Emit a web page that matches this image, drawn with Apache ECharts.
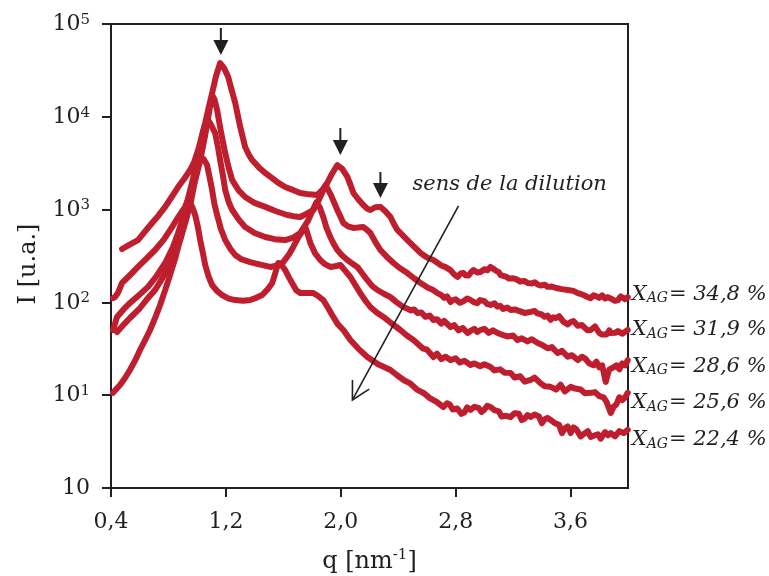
<!DOCTYPE html>
<html><head><meta charset="utf-8">
<script src="https://cdn.jsdelivr.net/npm/echarts@6/dist/echarts.min.js"></script>
<style>html,body{margin:0;padding:0;background:#fff}#c{width:769px;height:576px}</style>
</head><body><div id="c"></div>
<script>
// ---------- data (q in nm^-1, I in u.a.) ----------
const xTicks = [0.4, 1.2, 2.0, 2.8, 3.6];
const yTicks = [1, 10, 100, 1000, 10000, 100000];
const xagLabels = ['34,8', '31,9', '28,6', '25,6', '22,4'];

const s348 = [[0.477,376],[0.53,420],[0.588,470],[0.64,590],[0.686,717],[0.73,860],[0.777,1070],[0.82,1350],[0.867,1750],[0.91,2150],[0.951,2670],[0.98,3300],[1.007,4390],[1.03,6000],[1.056,8570],[1.08,12500],[1.104,18000],[1.13,27000],[1.16,38000],[1.19,33000],[1.216,26800],[1.24,19500],[1.265,14100],[1.285,10000],[1.3,7760],[1.32,5800],[1.334,4730],[1.36,3900],[1.383,3420],[1.43,2850],[1.474,2480],[1.52,2200],[1.565,1940],[1.613,1750],[1.67,1620],[1.718,1510],[1.78,1460],[1.837,1440],[1.87,1620],[1.906,1940],[1.94,2450],[1.976,3020],[2.01,2750],[2.046,2250],[2.07,1800],[2.088,1510],[2.12,1300],[2.157,1120],[2.185,1020],[2.206,990],[2.24,1060],[2.276,1070],[2.31,960],[2.346,832],[2.37,700],[2.394,603],[2.43,530],[2.464,470],[2.51,400],[2.555,341],[2.6,305],[2.645,286],[2.7,250],[2.73,240],[2.764,223],[2.79,200],[2.813,188],[2.835,205],[2.855,207],[2.87,196],[2.89,195],[2.91,214],[2.924,223],[2.95,210],[2.973,213],[3.0,228],[3.02,222],[3.043,241],[3.06,232],[3.08,220],[3.1,212],[3.113,197],[3.15,190],[3.17,181],[3.182,174],[3.2,182],[3.22,178],[3.25,168],[3.28,170],[3.301,162],[3.33,160],[3.35,165],[3.37,156],[3.39,152],[3.42,155],[3.44,147],[3.47,148],[3.5,143],[3.54,139],[3.58,136],[3.62,133],[3.65,126],[3.68,122],[3.7,118],[3.72,114],[3.74,111],[3.76,119],[3.78,116],[3.8,112],[3.82,119],[3.84,110],[3.859,114],[3.89,108],[3.91,104],[3.93,106],[3.95,116],[3.96,112],[3.98,108],[3.998,114]];

const s319 = [[0.414,111],[0.428,114],[0.45,128],[0.477,162],[0.53,195],[0.588,241],[0.65,300],[0.707,367],[0.77,480],[0.825,649],[0.87,840],[0.916,1070],[0.95,1450],[0.986,2080],[1.02,3300],[1.056,6370],[1.08,10500],[1.104,17200],[1.12,15500],[1.139,11800],[1.165,7000],[1.195,4070],[1.22,2800],[1.244,2080],[1.29,1600],[1.334,1370],[1.4,1180],[1.474,1070],[1.55,960],[1.627,875],[1.67,850],[1.718,832],[1.76,900],[1.809,990],[1.85,1300],[1.895,1840],[1.93,1450],[1.976,990],[2.018,717],[2.05,660],[2.088,634],[2.12,640],[2.157,649],[2.185,600],[2.206,560],[2.24,450],[2.276,367],[2.32,310],[2.367,266],[2.41,235],[2.464,207],[2.51,182],[2.555,162],[2.61,143],[2.64,137],[2.673,126],[2.7,120],[2.72,112],[2.74,116],[2.764,101],[2.78,106],[2.8,108],[2.83,99],[2.85,102],[2.88,110],[2.903,106],[2.93,100],[2.95,98],[2.97,106],[3.0,103],[3.02,96],[3.043,94],[3.07,98],[3.09,90],[3.11,92],[3.13,85],[3.16,88],[3.182,83],[3.21,84],[3.25,80],[3.28,77],[3.322,79],[3.35,81],[3.37,76],[3.4,74],[3.42,70],[3.44,72],[3.461,65],[3.48,69],[3.5,68],[3.52,71],[3.55,62],[3.58,58],[3.601,61.5],[3.62,63],[3.65,56],[3.68,57],[3.7,53],[3.72,50],[3.74,50.4],[3.77,55],[3.8,47],[3.82,45],[3.85,45],[3.87,50],[3.88,46.8],[3.91,47],[3.93,49],[3.96,46],[3.998,50.4]];

const s286 = [[0.414,50.4],[0.442,69.7],[0.49,85],[0.532,98.6],[0.6,122],[0.658,147],[0.72,195],[0.777,266],[0.83,390],[0.867,560],[0.9,800],[0.916,990],[0.95,1600],[0.986,2670],[1.01,4000],[1.035,6370],[1.055,8300],[1.076,9240],[1.1,8000],[1.125,6690],[1.145,4700],[1.16,3420],[1.18,2300],[1.195,1630],[1.22,1200],[1.244,990],[1.29,780],[1.334,649],[1.4,560],[1.474,507],[1.54,480],[1.613,470],[1.67,500],[1.718,560],[1.77,750],[1.8,950],[1.83,1200],[1.855,1050],[1.878,832],[1.9,640],[1.927,507],[1.95,430],[1.976,367],[2.01,320],[2.046,286],[2.08,262],[2.115,241],[2.15,205],[2.185,174],[2.22,150],[2.255,136],[2.3,124],[2.346,114],[2.39,100],[2.436,89.2],[2.46,86],[2.49,82],[2.51,84],[2.534,76.9],[2.56,78],[2.59,70],[2.62,72],[2.645,64.6],[2.67,66],[2.7,59],[2.72,63],[2.764,54.3],[2.79,57],[2.82,50],[2.85,53],[2.883,46.8],[2.91,50],[2.93,52],[2.95,48],[2.973,50.4],[3.0,52],[3.03,47],[3.06,50],[3.092,46.8],[3.12,45],[3.16,43],[3.2,44],[3.231,39.3],[3.26,41],[3.3,38],[3.33,40],[3.371,36.5],[3.4,35],[3.44,32],[3.47,33],[3.51,28.5],[3.54,30],[3.58,26],[3.61,27],[3.65,23.9],[3.68,26],[3.7,25],[3.73,22],[3.76,21],[3.78,23],[3.8,20],[3.82,21],[3.845,13.9],[3.86,17],[3.87,19],[3.9,20],[3.92,21],[3.94,19],[3.96,22],[3.98,21],[3.998,23.9]];

const s256 = [[0.442,48],[0.49,58],[0.532,67.9],[0.602,87],[0.65,108],[0.707,136],[0.76,185],[0.811,253],[0.85,350],[0.881,470],[0.92,750],[0.951,1120],[0.97,1550],[0.986,2080],[1.005,2900],[1.021,3690],[1.045,3500],[1.069,3020],[1.085,2300],[1.104,1630],[1.12,1150],[1.139,875],[1.165,620],[1.195,470],[1.23,380],[1.265,324],[1.31,290],[1.369,272],[1.44,255],[1.509,241],[1.56,250],[1.599,272],[1.64,330],[1.669,396],[1.71,520],[1.753,649],[1.77,540],[1.788,437],[1.82,340],[1.857,286],[1.89,258],[1.927,241],[1.96,245],[1.997,253],[2.03,220],[2.067,188],[2.1,155],[2.136,126],[2.17,105],[2.206,89.2],[2.25,78],[2.297,69.7],[2.35,60],[2.415,50.4],[2.46,44],[2.506,39.3],[2.57,32],[2.6,31],[2.645,25.8],[2.67,28],[2.7,24.5],[2.73,26],[2.764,23.9],[2.8,25],[2.83,22.5],[2.86,23.5],[2.903,21.2],[2.93,22],[2.97,20.5],[3.0,21.5],[3.043,20.1],[3.07,18.5],[3.11,19],[3.14,17.5],[3.182,17.4],[3.21,15.5],[3.25,16],[3.28,14],[3.322,14.6],[3.35,15.5],[3.39,13.5],[3.42,12.5],[3.461,12.3],[3.5,11.5],[3.53,13],[3.56,11],[3.601,12.3],[3.63,11.8],[3.67,11.5],[3.7,10.5],[3.74,10.6],[3.77,10.8],[3.8,9.8],[3.83,9.5],[3.85,8.5],[3.88,6.43],[3.9,7.5],[3.92,8],[3.94,9.5],[3.96,8.87],[3.98,9.5],[3.998,10.6]];

const s224 = [[0.414,10.6],[0.44,11.8],[0.463,12.9],[0.5,15.5],[0.532,18.7],[0.57,24],[0.602,30.7],[0.64,40],[0.672,50.4],[0.71,70],[0.742,93.8],[0.78,140],[0.811,197],[0.85,310],[0.881,470],[0.92,800],[0.951,1180],[0.968,1050],[0.986,875],[1.005,650],[1.021,470],[1.04,340],[1.056,253],[1.08,190],[1.104,154],[1.14,132],[1.174,120],[1.22,110],[1.265,106],[1.32,104],[1.369,106],[1.41,112],[1.453,120],[1.49,138],[1.523,162],[1.545,210],[1.565,266],[1.59,250],[1.613,223],[1.64,185],[1.669,154],[1.69,135],[1.718,126],[1.76,126],[1.809,126],[1.84,118],[1.878,106],[1.91,88],[1.948,69.7],[1.98,58],[2.018,50.4],[2.067,39.3],[2.12,32],[2.185,25.8],[2.26,21.5],[2.346,18.7],[2.39,16.5],[2.44,14.5],[2.48,13.5],[2.534,11.4],[2.58,10.5],[2.62,9.3],[2.67,8.4],[2.715,7.46],[2.74,8.2],[2.76,7.9],[2.78,7.0],[2.81,7.2],[2.84,6.3],[2.86,6.5],[2.88,7.4],[2.903,6.93],[2.93,7.5],[2.96,7.3],[2.98,6.6],[3.0,7.0],[3.02,7.7],[3.043,7.46],[3.07,6.9],[3.1,6.7],[3.12,5.9],[3.15,6.0],[3.182,5.82],[3.21,6.4],[3.24,6.3],[3.26,5.4],[3.28,5.6],[3.3,6.1],[3.322,5.82],[3.35,6.2],[3.38,5.9],[3.4,5.0],[3.42,5.5],[3.44,5.7],[3.461,5.41],[3.49,5.0],[3.52,4.8],[3.54,3.9],[3.56,4.4],[3.58,4.6],[3.601,3.91],[3.62,4.5],[3.64,4.3],[3.67,3.6],[3.69,3.8],[3.72,4.1],[3.74,3.55],[3.77,3.7],[3.79,3.8],[3.81,3.4],[3.84,4.0],[3.86,3.7],[3.88,3.91],[3.91,3.6],[3.94,4.1],[3.97,3.9],[3.998,4.22]];

// annotation anchors in data coordinates: [q, I at top of shaft, I at tip]
const peakArrows = [[1.165, 90600, 46300], [1.997, 7570, 3880], [2.276, 2540, 1334]];
const dilutionFrom = [2.82, 1094];
const dilutionTo = [2.081, 8.88];
const dilutionText = 'sens de la dilution';
const dilutionTextAt = [2.499, 1842];

// ---------- styling ----------
const FONT = '"DejaVu Serif", serif';
const INK = '#231f20';
const RED = '#be1e2d';
const labelDy = [-3, 0, 6, 10, 10];
const supDigits = {1:'1',10:'1',100:'2',1000:'3',10000:'4',100000:'5'};

const endRich = {
  x: {fontFamily: FONT, fontStyle: 'italic', fontSize: 21, color: INK, lineHeight: 21, verticalAlign: 'top'},
  s: {fontFamily: FONT, fontStyle: 'italic', fontSize: 14, color: INK, lineHeight: 14, padding: [9, 1, 0, 0]},
  t: {fontFamily: FONT, fontStyle: 'italic', fontSize: 21, color: INK, lineHeight: 21, verticalAlign: 'top'}
};

const chart = echarts.init(document.getElementById('c'), null, {renderer: 'canvas'});
const curves = [s348, s319, s286, s256, s224];

chart.setOption({
  animation: false,
  backgroundColor: '#fff',
  grid: {left: 111, right: 141, top: 24, bottom: 88, show: true, borderColor: INK, borderWidth: 2, outerBoundsMode: 'none', containLabel: false},
  xAxis: {
    type: 'value', min: 0.4, max: 4.0,
    name: '{a|q [nm}{s|-1}{a|]}', nameLocation: 'middle', nameGap: 60,
    nameTextStyle: {rich: {
      a: {fontFamily: FONT, fontSize: 24, color: INK, lineHeight: 26, verticalAlign: 'bottom'},
      s: {fontFamily: FONT, fontSize: 15, color: INK, lineHeight: 15, verticalAlign: 'top'}
    }},
    axisLine: {show: true, onZero: false, lineStyle: {color: INK, width: 2}},
    axisTick: {show: true, inside: false, length: 9, lineStyle: {color: INK, width: 2}, customValues: xTicks},
    axisLabel: {show: true, margin: 23, fontFamily: FONT, fontSize: 22, color: INK, customValues: xTicks,
      formatter: v => v.toFixed(1).replace('.', ',')},
    splitLine: {show: false}
  },
  yAxis: {
    type: 'log', logBase: 10, min: 1, max: 100000,
    name: 'I [u.a.]', nameLocation: 'middle', nameGap: 70, nameRotate: 90,
    nameTextStyle: {fontFamily: FONT, fontSize: 24, color: INK, padding: [0, 16, 0, 0]},
    axisLine: {show: true, onZero: false, lineStyle: {color: INK, width: 2}},
    axisTick: {show: true, inside: false, length: 9, lineStyle: {color: INK, width: 2}, customValues: yTicks},
    axisLabel: {show: true, margin: 21, customValues: yTicks,
      formatter: v => {
        const r = Math.round(v);
        if (r === 1) return '{b|10}';
        return '{b|10}{s|' + supDigits[r] + '}';
      },
      rich: {
        b: {fontFamily: FONT, fontSize: 22, color: INK, lineHeight: 23, verticalAlign: 'bottom'},
        s: {fontFamily: FONT, fontSize: 15, color: INK, lineHeight: 15, verticalAlign: 'top'}
      }
    },
    splitLine: {show: false}
  },
  series: curves.map((d, i) => ({
    type: 'line', data: d, showSymbol: false, symbol: 'none', smooth: false,
    lineStyle: {color: RED, width: 6, cap: 'round', join: 'round'},
    itemStyle: {color: RED},
    emphasis: {disabled: true},
    endLabel: {show: true, distance: 4, offset: [0, labelDy[i]],
      formatter: '{x|X}{s|AG}{t|= ' + xagLabels[i] + ' %}', rich: endRich}
  }))
});

function px(p) { return chart.convertToPixel({xAxisIndex: 0, yAxisIndex: 0}, p); }
const g = [];
peakArrows.forEach(a => {
  const top = px([a[0], a[1]]);
  const tip = px([a[0], a[2]]);
  const x = tip[0];
  g.push({type: 'line', shape: {x1: x, y1: top[1], x2: x, y2: tip[1] - 12}, style: {stroke: INK, lineWidth: 2}, z: 10});
  g.push({type: 'polygon', shape: {points: [[x - 7.5, tip[1] - 15], [x + 7.5, tip[1] - 15], [x, tip[1]]]}, style: {fill: INK}, z: 10});
});
const p0 = px(dilutionFrom), p1 = px(dilutionTo);
g.push({type: 'line', shape: {x1: p0[0], y1: p0[1], x2: p1[0], y2: p1[1]}, style: {stroke: INK, lineWidth: 1.6}, z: 10});
const ang = Math.atan2(p0[1] - p1[1], p0[0] - p1[0]);
const wl = 20, wa = 28.5 * Math.PI / 180;
const w1 = [p1[0] + wl * Math.cos(ang - wa), p1[1] + wl * Math.sin(ang - wa)];
const w2 = [p1[0] + wl * Math.cos(ang + wa), p1[1] + wl * Math.sin(ang + wa)];
g.push({type: 'polyline', shape: {points: [w1, p1, w2]}, style: {stroke: INK, lineWidth: 1.6, fill: null}, z: 10});
const tp = px(dilutionTextAt);
g.push({type: 'text', x: tp[0], y: tp[1], z: 10, style: {text: dilutionText, fontFamily: FONT, fontStyle: 'italic', fontSize: 21, fill: INK, align: 'left', verticalAlign: 'middle'}});
chart.setOption({graphic: g});
</script>
</body></html>
